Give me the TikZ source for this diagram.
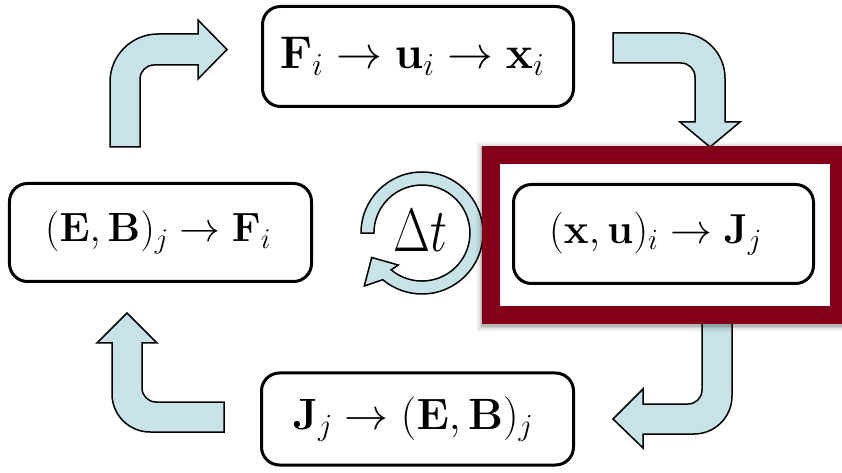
\RequirePackage{fix-cm}
\documentclass[tikz,border=0pt]{standalone}
\definecolor{arrowblue}{RGB}{199,227,232}
\definecolor{framered}{RGB}{132,0,24}
\begin{document}
\begin{tikzpicture}[x=1bp,y=-1bp,
  box/.style={draw=black, line width=3bp, rounded corners=18bp, fill=white, inner sep=0pt},
  bentarrow/.style={fill=arrowblue, draw=black, line width=1.5bp, line join=miter},
]
\useasboundingbox (0,0) rectangle (842,473);
\clip (0,0) rectangle (842,473);
\fill[white] (0,0) rectangle (842,473);
% bent arrows
\draw[bentarrow] (110,147) -- (110,82) arc[start angle=180,end angle=270,radius=48] -- (198,34) -- (198,20) -- (227,49.5) -- (198,79) -- (198,65) -- (154,65) arc[start angle=270,end angle=180,radius=14] -- (140,147) -- cycle;
\draw[bentarrow] (613,33) -- (680,33) arc[start angle=270,end angle=360,radius=45] -- (725,122) -- (740,122) -- (710,147) -- (680,122) -- (695,122) -- (695,77) arc[start angle=0,end angle=-90,radius=14] -- (613,63) -- cycle;
\draw[bentarrow] (732,315) -- (732,396) arc[start angle=0,end angle=90,radius=38] -- (643,434) -- (643,448) -- (613,419) -- (643,389) -- (643,404) -- (688,404) arc[start angle=90,end angle=0,radius=14] -- (702,315) -- cycle;
\draw[bentarrow] (224,432) -- (150,432) arc[start angle=90,end angle=180,radius=38] -- (112,343) -- (97,343) -- (127,313) -- (157,343) -- (142,343) -- (142,388) arc[start angle=180,end angle=90,radius=14] -- (224,402) -- cycle;
% circular arrow
\coordinate (c) at (422,233);
\draw[bentarrow] (c) ++(180:61) arc[start angle=180,end angle=490,radius=61] -- (364.3,286) -- (371.7,257.5) -- (398.3,265) -- (391.1,269.8) arc[start angle=490,end angle=180,radius=48] -- cycle;
% highlight frame with soft shadow
\foreach \w/\o in {30/0.04, 26/0.06, 22/0.09, 20/0.12} \draw[black, opacity=\o, line width=\w bp] (491,157.5) rectangle (839,317.5);
\fill[white] (500,164.5) rectangle (830,306);
\draw[framered, line width=18bp] (491,155.5) rectangle (839,315);
% boxes
\node[box, minimum width=311bp, minimum height=100bp] (ntop) at (418,56.5) {\hspace*{-12bp}\fontsize{46}{50}\selectfont $\mathbf{F}_i \to \mathbf{u}_i \to \mathbf{x}_i$};
\node[box, minimum width=302bp, minimum height=98bp] (nleft) at (160.5,232.5) {\hspace*{-5bp}\fontsize{41}{45}\selectfont $(\mathbf{E},\mathbf{B})_j \to \mathbf{F}_i$};
\node[box, minimum width=300bp, minimum height=99bp] (nright) at (663.5,234) {\hspace*{-16bp}\fontsize{42}{46}\selectfont $(\mathbf{x},\mathbf{u})_i \to \mathbf{J}_j$};
\node[box, minimum width=312bp, minimum height=92bp] (nbottom) at (417.5,419) {\hspace*{-9bp}\fontsize{44}{48}\selectfont $\mathbf{J}_j \to (\mathbf{E},\mathbf{B})_j$};
\node[inner sep=0pt] (dt) at (420.5,231) {\scalebox{1}[1.28]{\fontsize{48}{52}\selectfont $\Delta t$}};
\end{tikzpicture}
\end{document}
